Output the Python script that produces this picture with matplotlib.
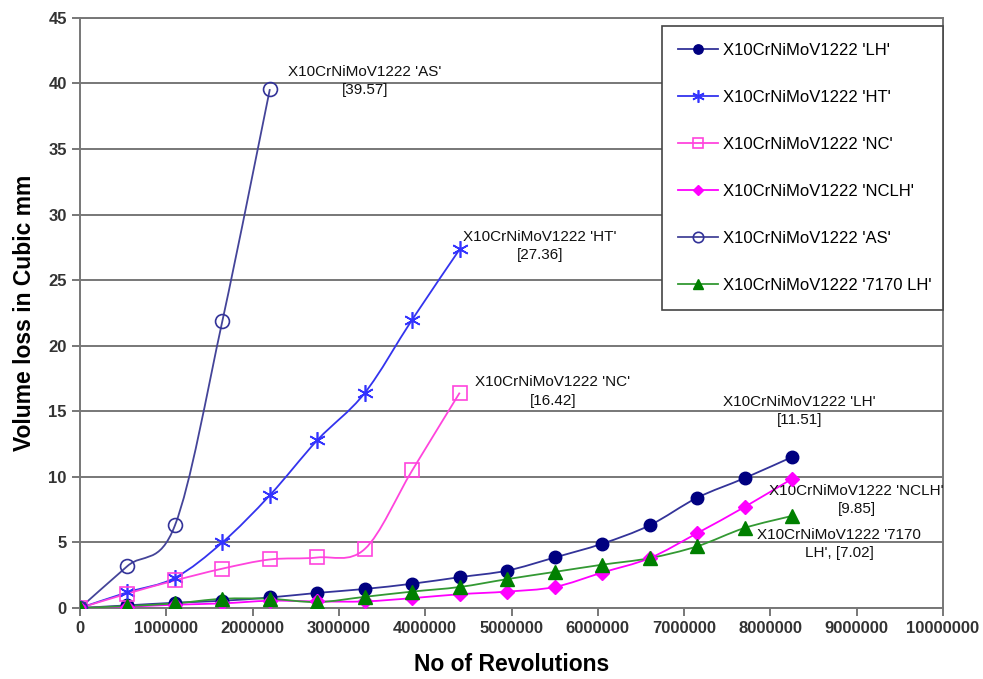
import numpy as np
import matplotlib.pyplot as plt
from matplotlib.path import Path
from matplotlib.patches import PathPatch
from matplotlib.lines import Line2D

plt.rcParams['font.family'] = ['Liberation Sans', 'DejaVu Sans']

# revolutions (x)
revs = [0, 550000, 1100000, 1650000, 2200000, 2750000, 3300000, 3850000,
        4400000, 4950000, 5500000, 6050000, 6600000, 7150000, 7700000, 8250000]

# volume loss in cubic mm for each steel condition
lh = [0, 0.2, 0.4, 0.55, 0.8, 1.15, 1.45, 1.85, 2.35, 2.85, 3.85, 4.9, 6.3, 8.4, 9.9, 11.51]
ht = [0, 1.2, 2.3, 5.0, 8.6, 12.8, 16.4, 22.0, 27.36]
nc = [0, 1.1, 2.1, 3.0, 3.7, 3.85, 4.5, 10.5, 16.42]
nclh = [0, 0.1, 0.25, 0.35, 0.55, 0.5, 0.5, 0.75, 1.05, 1.25, 1.6, 2.7, 3.8, 5.7, 7.7, 9.85]
as_ = [0, 3.2, 6.3, 21.9, 39.57]
lh7170 = [0, 0.15, 0.35, 0.7, 0.7, 0.45, 0.85, 1.25, 1.6, 2.2, 2.75, 3.3, 3.8, 4.7, 6.1, 7.02]

names = ["X10CrNiMoV1222 'LH'", "X10CrNiMoV1222 'HT'", "X10CrNiMoV1222 'NC'",
         "X10CrNiMoV1222 'NCLH'", "X10CrNiMoV1222 'AS'", "X10CrNiMoV1222 '7170 LH'"]

xtick_vals = list(range(0, 10000001, 1000000))
xtick_labels = [str(v) for v in xtick_vals]


def smooth_path(xs, ys):
    # Excel style smoothed line: cubic bezier through every point
    p = np.column_stack([xs, ys]).astype(float)
    n = len(p)
    verts = [p[0]]
    codes = [Path.MOVETO]
    for i in range(n - 1):
        p0 = p[i - 1] if i > 0 else p[i]
        p3 = p[i + 2] if i + 2 < n else p[i + 1]
        c1 = p[i] + (p[i + 1] - p0) / 6
        c2 = p[i + 1] - (p3 - p[i]) / 6
        verts += [c1, c2, p[i + 1]]
        codes += [Path.CURVE4] * 3
    return Path(verts, codes)


series = [
    (lh, names[0], '#333399', dict(marker='o', ms=9, mfc='#000080', mec='#000080')),
    (ht, names[1], '#3333ee', dict(marker=(6, 2, 0), ms=12, mfc='#3333ff', mec='#3333ff', mew=1.2)),
    (nc, names[2], '#ff44dd', dict(marker='s', ms=10, mfc='none', mec='#ff44dd', mew=1.2)),
    (nclh, names[3], '#ff00ff', dict(marker='D', ms=7, mfc='#ff00ff', mec='#ff00ff')),
    (as_, names[4], '#444499', dict(marker='o', ms=10, mfc='none', mec='#333399', mew=1.2)),
    (lh7170, names[5], '#339933', dict(marker='^', ms=10, mfc='#008000', mec='#008000')),
]

fig = plt.figure(figsize=(9.83, 6.79), dpi=100)
ax = fig.add_axes([0.0814, 0.1046, 0.8779, 0.869])

handles = []
for ys, name, lc, mk in series:
    xs = revs[:len(ys)]
    ax.add_patch(PathPatch(smooth_path(xs, ys), fill=False, edgecolor=lc, lw=1.3, zorder=3))
    ax.plot(xs, ys, linestyle='none', zorder=4, **mk)
    handles.append(Line2D([], [], color=lc, lw=1.3, **mk))

ax.set_xlim(0, 10000000)
ax.set_ylim(0, 45)
ax.set_xticks(xtick_vals)
ax.set_xticklabels(xtick_labels)
ax.set_yticks(range(0, 46, 5))
ax.yaxis.grid(True, color='#777777', lw=1.4)
ax.set_axisbelow(True)
for s in ax.spines.values():
    s.set_color('#777777')
    s.set_linewidth(1.4)
ax.tick_params(direction='out', length=6, width=1.4, color='#777777',
               labelsize=12, labelcolor='#333333')
for lab in ax.get_xticklabels() + ax.get_yticklabels():
    lab.set_fontweight('bold')

ax.set_xlabel('No of Revolutions', fontsize=16.5, fontweight='bold', labelpad=12)
ax.set_ylabel('Volume loss in Cubic mm', fontsize=16.5, fontweight='bold', labelpad=9)

# end-point annotations
ann = dict(fontsize=11, ha='center', va='center', linespacing=1.4, color='#111111')
ax.text(3300000, 40.2, "X10CrNiMoV1222 'AS'\n[39.57]", **ann)
ax.text(5330000, 27.6, "X10CrNiMoV1222 'HT'\n[27.36]", **ann)
ax.text(5480000, 16.5, "X10CrNiMoV1222 'NC'\n[16.42]", **ann)
ax.text(8340000, 15.0, "X10CrNiMoV1222 'LH'\n[11.51]", **ann)
ax.text(9000000, 8.25, "X10CrNiMoV1222 'NCLH'\n[9.85]", **ann)
ax.text(8800000, 4.9, "X10CrNiMoV1222 '7170\nLH', [7.02]", **ann)

leg = ax.legend(handles, names, loc='upper left', bbox_to_anchor=(0.674, 0.986, 0.326, 0.0),
                mode='expand', fontsize=12, labelspacing=1.92, borderpad=1.0,
                handlelength=2.4, handletextpad=0.3, fancybox=False, framealpha=1,
                borderaxespad=0, markerscale=0.75)
leg.get_frame().set_edgecolor('#444444')
leg.get_frame().set_linewidth(1.2)

fig.savefig('out.png', dpi=100)
